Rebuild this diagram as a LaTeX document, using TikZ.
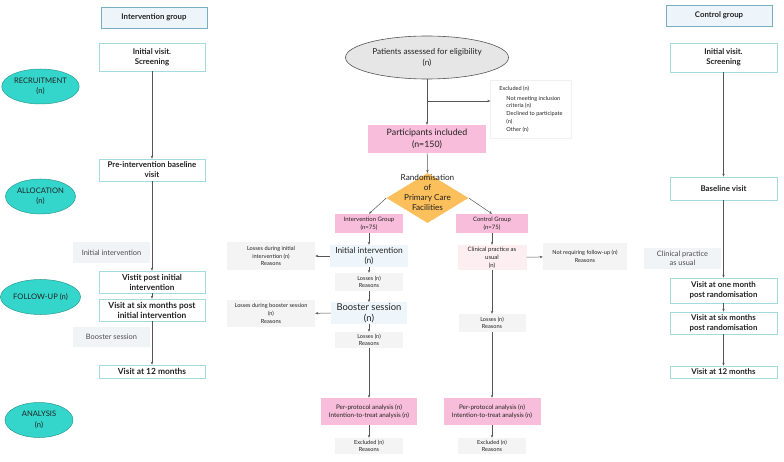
\documentclass[tikz,border=0pt]{standalone}
\usepackage{fontspec}
\setmainfont{Lato}
\usetikzlibrary{shapes.geometric,arrows.meta}
\definecolor{lnc}{HTML}{555555}
\definecolor{txt}{HTML}{222222}
\definecolor{hdrfill}{HTML}{EEF5FA}
\definecolor{hdrdraw}{HTML}{78AFC0}
\definecolor{visdraw}{HTML}{A3DCDF}
\definecolor{phasefill}{HTML}{34D6CB}
\definecolor{phasedraw}{HTML}{2A9A92}
\definecolor{pinkfill}{HTML}{F8BDDA}
\definecolor{lpink}{HTML}{FDEEF1}
\definecolor{lblue}{HTML}{EEF6FB}
\definecolor{lgray}{HTML}{F4F4F4}
\definecolor{lbl}{HTML}{F0F4F7}
\definecolor{orng}{HTML}{FBBF5C}
\definecolor{patfill}{HTML}{E6E6E6}
\tikzset{
  every node/.style={text=txt, inner sep=1pt},
  hdr/.style={draw=hdrdraw, fill=hdrfill, line width=0.6pt, minimum width=106pt, minimum height=21pt, font=\bfseries\fontsize{7.8}{9}\selectfont},
  visit/.style={draw=visdraw, fill=white, line width=0.7pt, minimum width=106pt, align=center, font=\bfseries\fontsize{7.9}{10}\selectfont},
  phase/.style={ellipse, draw=phasedraw, fill=phasefill, line width=0.5pt, minimum width=70pt, minimum height=35pt, align=center, font=\fontsize{7.6}{10.5}\selectfont},
  lblbox/.style={fill=lbl, minimum width=77pt, minimum height=21pt, align=center, font=\fontsize{7.4}{9.5}\selectfont, text=black!70},
  pinkbox/.style={fill=pinkfill, align=center},
  graybox/.style={fill=lgray, align=center, font=\fontsize{5.6}{7.6}\selectfont},
  arr/.style={draw=lnc, line width=0.5pt, -{Stealth[length=3pt,width=2.4pt]}},
}
\begin{document}
\begin{tikzpicture}[x=1pt,y=-1pt]
\useasboundingbox (0,0) rectangle (784,462);
% ---------------- left column
\node[hdr] (hdrL) at (154,17.5) {Intervention group};
\node[visit, minimum height=28pt] (initL) at (152,57) {Initial visit.\\Screening};
\node[visit, minimum height=22pt] (preL) at (152,170) {Pre-intervention baseline\\visit};
\node[visit, minimum height=22pt, font=\bfseries\fontsize{8.2}{10}\selectfont] (postL) at (152,282) {Vistit post initial\\intervention};
\node[visit, minimum height=22pt, font=\bfseries\fontsize{8.4}{10}\selectfont] (sixL) at (152,310) {Visit at six months post\\initial intervention};
\node[visit, minimum height=13pt, font=\bfseries\fontsize{8.4}{10}\selectfont] (twL) at (152,371.5) {Visit at 12 months};
\node[lblbox] (iiL) at (111.5,253) {Initial intervention};
\node[lblbox, minimum height=20pt] (bsL) at (111.5,337) {Booster session};
\node[phase] (recr) at (40.5,86.5) {RECRUITMENT\\(n)};
\node[phase] (alloc) at (40.5,196.5) {ALLOCATION\\(n)};
\node[phase] (foll) at (40.5,297) {FOLLOW-UP (n)};
\node[phase, minimum width=68pt] (anal) at (39,420) {ANALYSIS\\(n)};
\draw[arr] (initL) -- (preL);
\draw[arr] (preL) -- (postL);
\draw[arr] (postL) -- (sixL);
\draw[arr] (sixL) -- (twL);
% ---------------- right column
\node[hdr] (hdrR) at (719,15.5) {Control group};
\node[visit, minimum width=107pt, minimum height=29pt] (initR) at (723.5,57.5) {Initial visit.\\Screening};
\node[visit, minimum width=107pt, minimum height=23pt] (baseR) at (723.5,188.5) {Baseline visit};
\node[visit, minimum width=107pt, minimum height=25pt] (oneR) at (723.5,290.5) {Visit at one month\\post randomisation};
\node[visit, minimum width=107pt, minimum height=22pt] (sixR) at (723.5,323) {Visit at six months\\post randomisation};
\node[visit, minimum width=107pt, minimum height=12pt] (twR) at (723.5,372) {Visit at 12 months};
\node[lblbox] (cpR) at (682.5,258.5) {Clinical practice\\as usual};
\draw[arr] (initR) -- (baseR);
\draw[arr] (baseR) -- (oneR);
\draw[arr] (oneR) -- (sixR);
\draw[arr] (sixR) -- (twR);
% ---------------- centre
\node[ellipse, draw=lnc, fill=patfill, line width=0.6pt, minimum width=163pt, minimum height=43pt, align=center, font=\fontsize{8.2}{11}\selectfont] (pat) at (427,57.5) {Patients assessed for eligibility\\(n)};
\node[pinkbox, minimum width=118pt, minimum height=28pt, font=\fontsize{8.8}{11.5}\selectfont] (part) at (427,139) {Participants included\\(n=150)};
\node[draw=black!6, fill=white, line width=0.4pt, minimum width=81pt, minimum height=58pt, align=left, font=\fontsize{5.6}{7.8}\selectfont, anchor=center] (excl) at (531,109) {Excluded (n)\\[2pt]\hspace*{7pt}Not meeting inclusion\\\hspace*{7pt}criteria (n)\\\hspace*{7pt}Declined to participate\\\hspace*{7pt}(n)\\\hspace*{7pt}Other (n)};
\coordinate (br) at (427,101);
\draw[arr] (pat) -- (part);
\draw[arr] (br) -- (br -| excl.west);
\node[diamond, fill=orng, minimum width=82pt, minimum height=50pt, inner sep=0pt] (dia) at (427.5,198) {};
\node[align=center, font=\fontsize{8.2}{10}\selectfont] (diat) at (427.5,193) {Randomisation\\of\\Primary Care\\Facilities};
\draw[arr] (part) -- (dia.north);
\node[pinkbox, minimum width=68pt, minimum height=19pt, font=\fontsize{6}{8}\selectfont] (ig) at (369,223.5) {Intervention Group\\(n=75)};
\node[pinkbox, minimum width=72pt, minimum height=19pt, font=\fontsize{6}{8}\selectfont] (cg) at (492,223.5) {Control Group\\(n=75)};
\draw[arr] (dia.west) -- (ig.north);
\draw[arr] (dia.east) -- (cg.north);
% intervention branch
\node[fill=lblue, minimum width=78pt, minimum height=22pt, align=center, font=\fontsize{8.4}{10.5}\selectfont] (ii) at (369,256) {Initial intervention\\(n)};
\node[graybox, minimum width=88pt, minimum height=28pt] (lossI) at (271,256) {Losses during initial\\intervention (n)\\Reasons};
\node[graybox, minimum width=68pt, minimum height=18pt] (l1) at (369,282) {Losses (n)\\Reasons};
\node[fill=lblue, minimum width=76pt, minimum height=20pt, align=center, font=\fontsize{9.4}{11}\selectfont] (bs) at (369,313) {Booster session\\(n)};
\node[graybox, minimum width=88pt, minimum height=27pt] (lossB) at (271,313.5) {Losses during booster session\\(n)\\Reasons};
\node[graybox, minimum width=68pt, minimum height=16pt] (l2) at (369,340) {Losses (n)\\Reasons};
\node[pinkbox, minimum width=96pt, minimum height=27pt, font=\fontsize{6.3}{8}\selectfont] (ppL) at (369,411.5) {Per-protocol analysis (n)\\Intention-to-treat analysis (n)};
\node[graybox, minimum width=68pt, minimum height=16pt] (exL) at (369,446) {Excluded (n)\\Reasons};
\draw[arr] (ig) -- (ii);
\draw[arr] (ii) -- (lossI);
\draw[arr] (ii) -- (l1);
\draw[arr] (l1) -- (bs);
\draw[arr] (bs) -- (lossB);
\draw[arr] (bs) -- (l2);
\draw[arr] (l2) -- (ppL);
\draw[arr] (ppL) -- (exL);
% control branch
\node[fill=lpink, minimum width=69pt, minimum height=25pt, align=center, font=\fontsize{6}{8}\selectfont] (cp) at (492,257.5) {Clinical practice as\\usual\\(n)};
\node[graybox, minimum width=84pt, minimum height=27pt] (nr) at (585,256.5) {Not requiring follow-up (n)\\Reasons};
\node[graybox, minimum width=67pt, minimum height=18pt] (lR) at (492,323) {Losses (n)\\Reasons};
\node[pinkbox, minimum width=97pt, minimum height=27pt, font=\fontsize{6.3}{8}\selectfont] (ppR) at (492,411.5) {Per-protocol analysis (n)\\Intention-to-treat analysis (n)};
\node[graybox, minimum width=68pt, minimum height=16pt] (exR) at (492,446) {Excluded (n)\\Reasons};
\draw[arr] (cg) -- (cp);
\draw[arr] (cp) -- (nr);
\draw[arr] (cp) -- (lR);
\draw[arr] (lR) -- (ppR);
\draw[arr] (ppR) -- (exR);
\end{tikzpicture}
\end{document}
